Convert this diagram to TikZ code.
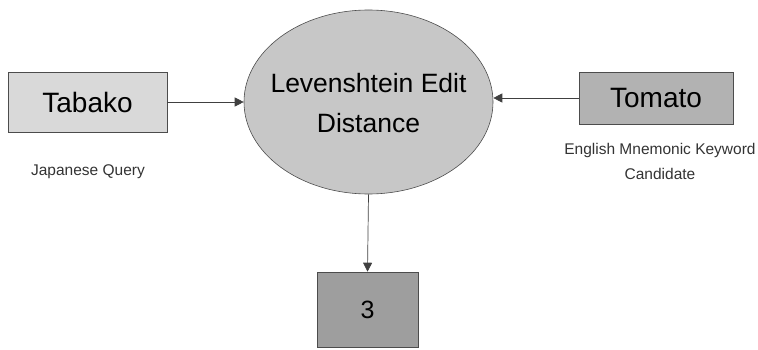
\documentclass[tikz,border=0pt]{standalone}
\usepackage{fontspec}
\setmainfont{Liberation Sans}
\usetikzlibrary{arrows.meta,shapes.geometric}
\begin{document}
\begin{tikzpicture}[x=1pt,y=-1pt,
  boxnode/.style={draw=black!70, line width=0.6pt, minimum height=#1, inner sep=0pt},
  conn/.style={draw=black!75, line width=0.7pt, -{Triangle[length=9pt,width=9pt]}},
  small/.style={font=\fontsize{15.5}{25}\selectfont, align=center, text=black!80}
]
\useasboundingbox (0,0) rectangle (758,350);
\node[boxnode=60pt, fill=black!15, minimum width=159pt, font=\fontsize{28}{32}\selectfont] (tab) at (87.5,102) {Tabako};
\node[small] (jq) at (88,172) {Japanese Query};
\node[draw=black!70, line width=0.6pt, ellipse, fill=black!22, minimum width=249pt, minimum height=184pt, inner sep=0pt] (lev) at (368.5,102) {};
\node[align=center, font=\fontsize{26.5}{40}\selectfont, inner sep=0pt] (levt) at ([yshift=-1.5pt]lev.center) {Levenshtein Edit\\Distance};
\node[boxnode=52pt, fill=black!30, minimum width=154pt, font=\fontsize{28}{32}\selectfont] (tom) at (656,98) {Tomato};
\node[small] (emk) at (660,161) {English Mnemonic Keyword\\Candidate};
\node[boxnode=75pt, fill=black!38, minimum width=101pt, font=\fontsize{25}{30}\selectfont] (three) at (367.5,309.5) {3};
\draw[conn] (tab.east) -- (lev.west);
\draw[conn] (tom.west) -- (tom.west -| lev.east);
\draw[conn] (lev.south) -- (three.north);
\end{tikzpicture}
\end{document}
